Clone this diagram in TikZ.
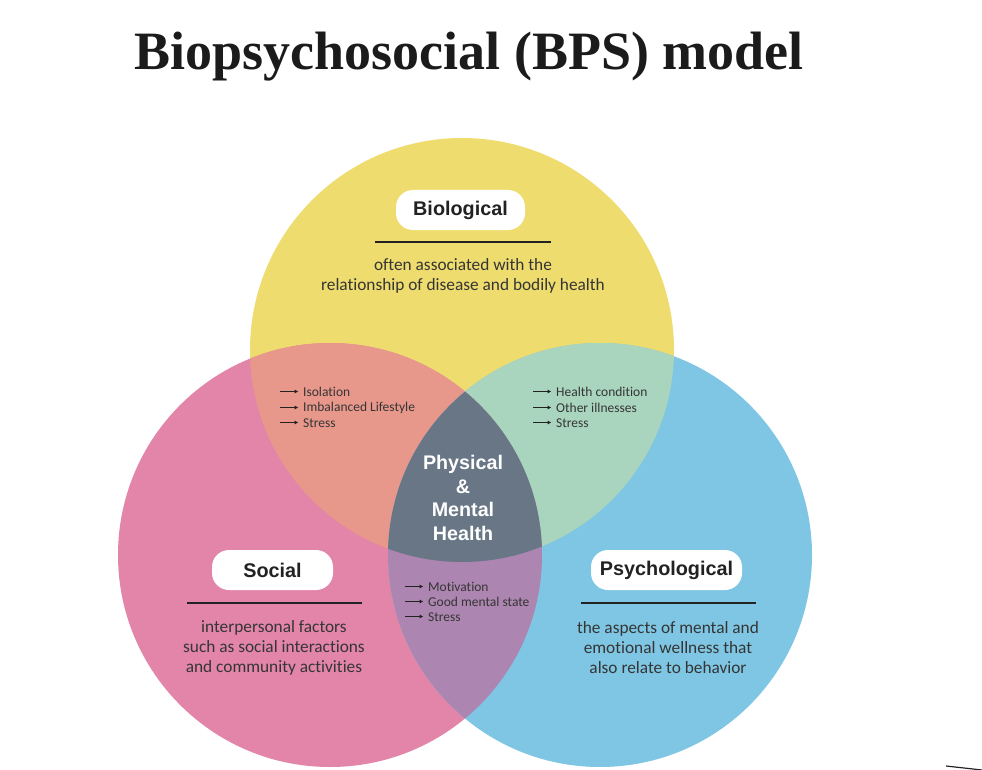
\documentclass[tikz,border=0pt]{standalone}
\usepackage{fontspec}
\setmainfont{Liberation Sans}
\newfontfamily\titlefont{Liberation Serif}
\newfontfamily\bodyfont[Ligatures=NoCommon]{Carlito}
\usetikzlibrary{arrows.meta}
\definecolor{cyel}{HTML}{EEDC6E}
\definecolor{cpink}{HTML}{E285A9}
\definecolor{cblue}{HTML}{7EC6E3}
\definecolor{csalmon}{HTML}{E8978B}
\definecolor{cmint}{HTML}{A9D4BD}
\definecolor{cpurple}{HTML}{AC85B0}
\definecolor{cgray}{HTML}{687685}
\definecolor{ink}{HTML}{222222}
\definecolor{body}{HTML}{353535}
\tikzset{
  pill/.style={fill=white, rounded corners=17pt, minimum height=40pt, inner sep=0pt,
    text=ink, font=\fontsize{19.8}{22}\selectfont\bfseries},
  rule/.style={line width=2.6pt, draw=ink},
  desc/.style={align=center, text=body, inner sep=0pt,
    font=\bodyfont\fontsize{17.3}{20}\selectfont},
  bul/.style={anchor=west, text=body, inner sep=0pt,
    font=\bodyfont\fontsize{13.5}{15}\selectfont},
  bularrow/.style={line width=0.9pt, draw=ink, -{Triangle[length=3.4pt,width=3.6pt]}},
  midtext/.style={align=center, text=white, inner sep=0pt,
    font=\fontsize{19.7}{23.5}\selectfont\bfseries}
}
\begin{document}
\begin{tikzpicture}[x=1pt,y=-1pt]
\useasboundingbox (0,0) rectangle (982,770);
\fill[white] (0,0) rectangle (982,770);
% title
\node[anchor=base, inner sep=0pt, text=ink!80!black] (title) at (469,70)
  {\titlefont\bfseries\fontsize{54}{60}\selectfont Biopsychosocial (BPS) model};
% circles
\fill[cyel] (462,350) circle[radius=212pt];
\fill[cpink] (330,555) circle[radius=212pt];
\fill[cblue] (600,555) circle[radius=212pt];
\begin{scope}
  \clip (462,350) circle[radius=212pt];
  \fill[csalmon] (330,555) circle[radius=212pt];
  \fill[cmint] (600,555) circle[radius=212pt];
\end{scope}
\begin{scope}
  \clip (330,555) circle[radius=212pt];
  \fill[cpurple] (600,555) circle[radius=212pt];
\end{scope}
\begin{scope}
  \clip (462,350) circle[radius=212pt];
  \clip (330,555) circle[radius=212pt];
  \fill[cgray] (600,555) circle[radius=212pt];
\end{scope}
% Biological
\node[pill, minimum width=129pt] (bio) at (460.5,210) {Biological};
\draw[rule] (375,242) -- (551,242);
\node[desc] (biodesc) at (463,276) {often associated with the\\relationship of disease and bodily health};
% Social
\node[pill, minimum width=121pt] (soc) at (272.5,570) {Social};
\draw[rule] (187,603) -- (362,603);
\node[desc] (socdesc) at (274,648) {interpersonal factors\\such as social interactions\\and community activities};
% Psychological
\node[pill, minimum width=151pt] (psy) at (666.5,570) {Psychological};
\draw[rule] (581,603) -- (756,603);
\node[desc] (psydesc) at (668,648) {the aspects of mental and\\emotional wellness that\\also relate to behavior};
% centre
\node[midtext] (mid) at (463,498) {Physical\\\&\\Mental\\Health};
% left list
\node[bul] (l1) at (303,392) {Isolation};
\node[bul] (l2) at (303,408) {Imbalanced Lifestyle};
\node[bul] (l3) at (303,423) {Stress};
% right list
\node[bul] (r1) at (556,392) {Health condition};
\node[bul] (r2) at (556,408) {Other illnesses};
\node[bul] (r3) at (556,423) {Stress};
% bottom list
\node[bul] (b1) at (428,587) {Motivation};
\node[bul] (b2) at (428,602) {Good mental state};
\node[bul] (b3) at (428,617) {Stress};
\foreach \n in {l1,l2,l3,r1,r2,r3,b1,b2,b3}{
  \draw[bularrow] ([xshift=-23pt,yshift=0.5pt]\n.west) -- ([xshift=-5pt,yshift=0.5pt]\n.west);
}
% corner mark
\coordinate (m1) at (946,766);
\coordinate (m2) at (982,770);
\draw[line width=1.2pt, ink] (m1) -- (m2);
\end{tikzpicture}
\end{document}
